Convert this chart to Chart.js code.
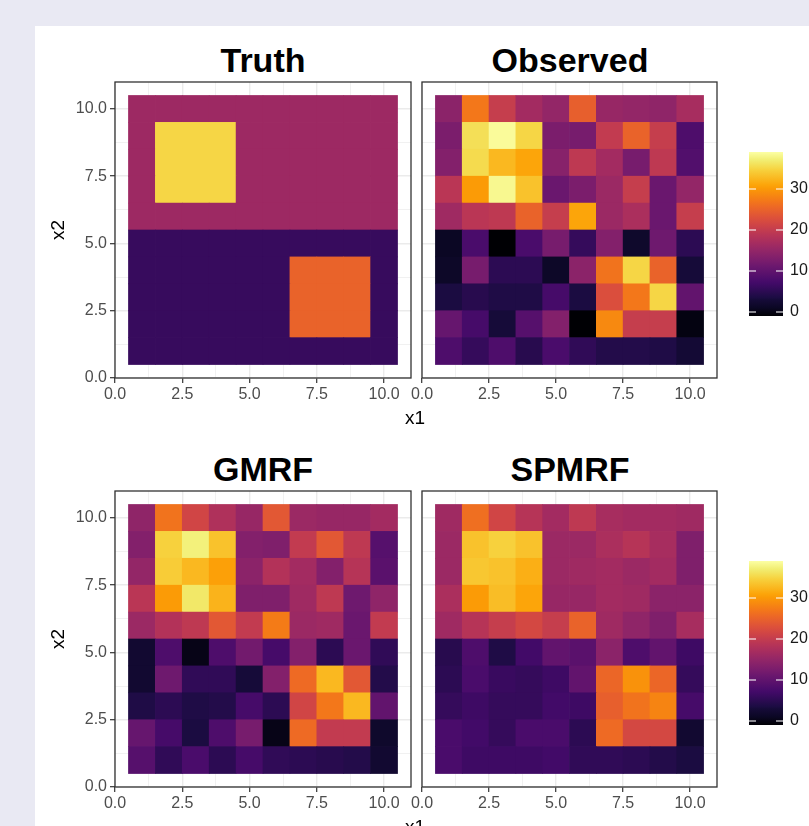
<!DOCTYPE html>
<html><head><meta charset="utf-8">
<script src="https://cdn.jsdelivr.net/npm/chart.js@4.4.1/dist/chart.umd.min.js"></script>
<style>
html,body{margin:0;padding:0;background:#E9E9F3;width:809px;height:826px;overflow:hidden;font-family:"Liberation Sans",Arial,sans-serif;}
#card{position:absolute;left:35px;top:26px;width:800px;height:820px;background:#fff;}
canvas{position:absolute;}
.title{position:absolute;font-weight:bold;font-size:34px;color:#000;text-align:center;width:300px;line-height:1;white-space:nowrap;}
.axt{position:absolute;font-size:19px;color:#000;text-align:center;width:40px;line-height:1;}
.rot{transform:rotate(-90deg);transform-origin:50% 50%;height:20px;line-height:20px;}
</style></head><body>
<div id="card"></div>
<div class="title" style="left:113px;top:43px;">Truth</div>
<div class="title" style="left:420px;top:43px;">Observed</div>
<div class="title" style="left:113px;top:452px;">GMRF</div>
<div class="title" style="left:420px;top:452px;">SPMRF</div>
<canvas id="c1" width="361" height="336" style="left:60px;top:72px;width:361px;height:336px;"></canvas>
<canvas id="c2" width="325" height="336" style="left:402px;top:72px;width:325px;height:336px;"></canvas>
<canvas id="c3" width="361" height="336" style="left:60px;top:481px;width:361px;height:336px;"></canvas>
<canvas id="c4" width="325" height="336" style="left:402px;top:481px;width:325px;height:336px;"></canvas>
<canvas id="l1" width="60" height="184" style="left:749px;top:142px;width:60px;height:184px;"></canvas>
<canvas id="l2" width="60" height="184" style="left:749px;top:551px;width:60px;height:184px;"></canvas>
<div class="axt" style="left:395px;top:408px;">x1</div>
<div class="axt" style="left:395px;top:817px;">x1</div>
<div class="axt rot" style="left:38px;top:220px;">x2</div>
<div class="axt rot" style="left:38px;top:629px;">x2</div>
<script>
// ---- data ----
const X_CELLS = [1,2,3,4,5,6,7,8,9,10];
const Y_ROWS = [10,9,8,7,6,5,4,3,2,1];
const AXIS_MAJOR = [0,2.5,5,7.5,10];
const AXIS_MINOR = [1.25,3.75,6.25,8.75];
const LEGEND_TICKS = [0,10,20,30];
const LIMITS = [-1,39];

const TRUTH = [
[16,16,16,16,16,16,16,16,16,16],
[16,35,35,35,16,16,16,16,16,16],
[16,35,35,35,16,16,16,16,16,16],
[16,35,35,35,16,16,16,16,16,16],
[16,16,16,16,16,16,16,16,16,16],
[6,6,6,6,6,6,6,6,6,6],
[6,6,6,6,6,6,25,25,25,6],
[6,6,6,6,6,6,25,25,25,6],
[6,6,6,6,6,6,25,25,25,6],
[6,6,6,6,6,6,6,6,6,6]];

const OBSERVED = [
[14.2,27.0,20.2,16.6,15.0,24.6,15.4,15.0,14.6,17.0],
[12.6,35.8,38.6,35.0,12.6,12.2,19.8,25.0,20.2,8.2],
[13.4,35.4,32.6,31.0,13.8,19.4,16.6,12.2,19.4,8.6],
[19.0,30.2,38.2,33.4,11.0,12.6,15.8,20.2,11.0,15.0],
[16.2,19.0,19.4,25.0,20.2,31.0,15.8,17.4,11.0,20.2],
[1.0,7.8,-1.0,7.8,12.2,5.8,13.4,1.8,11.4,5.0],
[1.4,12.2,5.0,5.0,1.4,14.2,26.6,35.0,25.0,3.0],
[3.4,4.6,3.8,3.8,7.4,3.4,22.6,27.0,35.0,10.2],
[10.6,7.4,3.0,9.0,13.4,-1.0,28.6,20.2,20.2,-0.2],
[8.2,5.8,8.2,4.6,7.8,5.4,4.2,4.2,3.8,2.6]];

const GMRF = [
[14.6,26.6,21.4,17.8,15.4,23.8,15.8,15.4,15.4,16.6],
[13.4,34.6,37.4,33.4,13.4,13.0,19.8,23.8,19.4,9.0],
[15.0,34.2,32.6,30.6,14.2,18.2,16.6,13.4,18.6,9.4],
[19.0,30.2,36.6,32.2,13.0,13.0,16.2,19.4,11.4,14.6],
[15.8,18.2,19.4,23.8,19.8,27.4,15.8,16.2,11.0,19.8],
[2.2,8.2,0.2,8.2,11.8,7.4,13.4,5.0,11.0,5.4],
[2.2,11.4,5.4,5.4,3.0,13.4,25.8,32.6,23.8,4.2],
[3.8,5.0,3.8,4.2,7.4,5.0,21.4,27.0,32.6,10.2],
[10.6,7.4,3.4,8.2,12.2,0.2,25.8,19.8,19.8,1.8],
[9.0,5.4,7.8,5.0,7.4,5.4,5.0,4.6,4.2,2.2]];

const SPMRF = [
[16.2,26.2,21.4,18.6,16.6,19.4,17.0,16.6,16.6,16.2],
[15.8,33.4,34.6,33.4,15.8,15.8,17.4,18.6,17.0,13.0],
[15.8,33.8,33.4,31.8,15.8,16.2,16.6,15.8,16.6,13.0],
[17.4,30.2,33.0,31.0,15.4,15.4,16.6,16.2,14.2,14.2],
[16.2,18.6,20.2,21.8,20.2,25.0,16.2,14.6,13.0,17.0],
[4.6,8.2,3.8,7.0,10.2,9.4,14.2,8.2,10.2,6.6],
[5.0,7.8,6.2,5.8,6.6,10.2,25.4,29.4,25.4,5.8],
[5.8,6.6,5.8,5.8,7.0,6.6,24.6,26.6,28.2,7.4],
[7.8,7.0,5.8,7.8,7.8,5.0,25.8,21.8,21.8,2.2],
[7.8,6.6,6.6,6.6,7.0,5.4,5.4,5.0,4.2,3.4]];

// ---- colour map (inferno) ----
const INFERNO = [[0,'#000004'],[0.05,'#0B0724'],[0.1,'#160B39'],[0.111,'#1B0C42'],[0.2,'#420A68'],[0.222,'#4B0C6B'],
[0.3,'#6A176E'],[0.333,'#781C6D'],[0.4,'#932667'],[0.444,'#A52C60'],[0.5,'#BA3655'],[0.556,'#CF4446'],[0.6,'#DD513A'],
[0.667,'#ED6925'],[0.7,'#F3771A'],[0.778,'#FB9A06'],[0.8,'#FCA50A'],[0.889,'#F7D03C'],[0.9,'#F6D645'],[0.95,'#F1ED71'],[1,'#FCFFA4']];
function hex2rgb(h){return [parseInt(h.substr(1,2),16),parseInt(h.substr(3,2),16),parseInt(h.substr(5,2),16)];}
function inferno(v){
  let t=(v-LIMITS[0])/(LIMITS[1]-LIMITS[0]); t=Math.max(0,Math.min(1,t));
  for(let i=1;i<INFERNO.length;i++){
    if(t<=INFERNO[i][0]){
      const [t0,c0]=INFERNO[i-1],[t1,c1]=INFERNO[i];
      const f=(t-t0)/(t1-t0), a=hex2rgb(c0), b=hex2rgb(c1);
      return 'rgb('+a.map((x,k)=>Math.round(x+(b[k]-x)*f)).join(',')+')';
    }
  }
  return INFERNO[INFERNO.length-1][1];
}

const FONT = {family:'"Liberation Sans", Arial, sans-serif', size:16};
const isMajor = v => AXIS_MAJOR.some(m=>Math.abs(m-v)<1e-6);
const allTicks = () => AXIS_MAJOR.concat(AXIS_MINOR).sort((a,b)=>a-b).map(v=>({value:v}));

const boxPlugin = {id:'box', afterDraw(chart){
  const {ctx, chartArea:a} = chart; ctx.save(); ctx.strokeStyle='#333333'; ctx.lineWidth=1.3;
  ctx.strokeRect(a.left, a.top, a.right-a.left, a.bottom-a.top); ctx.restore();
}};

function axisCommon(showLabels){
  return {
    type:'linear', min:0, max:11, offset:false,
    afterBuildTicks: s => { s.ticks = allTicks(); },
    grid:{offset:false, color:'#EBEBEB', lineWidth:c=> (c.tick && isMajor(c.tick.value)) ? 1.4 : 0.7,
      drawTicks:showLabels, tickLength:5, tickWidth:1.2,
      tickColor:c=> (c.tick && isMajor(c.tick.value)) ? '#333333' : 'rgba(0,0,0,0)'},
    border:{display:false},
    ticks:{display:showLabels, autoSkip:false, maxRotation:0, minRotation:0, color:'#4D4D4D', font:FONT, padding:3,
      callback:v=> isMajor(v) ? v.toFixed(1) : ''}
  };
}

function makePanel(id, grid, showY){
  const data=[];
  for(let r=0;r<Y_ROWS.length;r++){
    for(let c=0;c<X_CELLS.length;c++){
      data.push({x:X_CELLS[c], y:[Y_ROWS[r]-0.5, Y_ROWS[r]+0.5], v:grid[r][c]});
    }
  }
  const xs = axisCommon(true);
  xs.ticks.padding = 2;
  xs.afterFit = s => { s.height = 30; s.paddingLeft = 0; s.paddingRight = 0; };
  const ys = axisCommon(showY);
  ys.afterFit = s => { s.width = showY ? 55 : 0; s.paddingTop = 0; s.paddingBottom = 0; };
  new Chart(document.getElementById(id), {
    type:'bar',
    data:{datasets:[{data, backgroundColor:c=> inferno(c.raw ? c.raw.v : 0), borderWidth:0,
      barPercentage:1, categoryPercentage:1}]},
    options:{responsive:false, animation:false, events:[],
      layout:{padding:{top:10, right:10, left: showY ? 0 : 20, bottom:0}},
      plugins:{legend:{display:false}, tooltip:{enabled:false}},
      scales:{x:xs, y:ys}},
    plugins:[boxPlugin]
  });
}

makePanel('c1', TRUTH, true);
makePanel('c2', OBSERVED, false);
makePanel('c3', GMRF, true);
makePanel('c4', SPMRF, false);

const tickMarks = {id:'cbticks', afterDatasetsDraw(chart){
  const ys = chart.scales.y, a = chart.chartArea, ctx = chart.ctx;
  ctx.save(); ctx.strokeStyle='rgba(255,255,255,0.7)'; ctx.lineWidth=1.5;
  LEGEND_TICKS.forEach(v=>{ const y = ys.getPixelForValue(v);
    ctx.beginPath(); ctx.moveTo(a.left,y); ctx.lineTo(a.left+7,y); ctx.moveTo(a.right-7,y); ctx.lineTo(a.right,y); ctx.stroke(); });
  ctx.restore();
}};

function makeLegend(id){
  new Chart(document.getElementById(id), {
    type:'bar',
    data:{labels:['value'], datasets:[{data:[[LIMITS[0], LIMITS[1]]], borderWidth:0, barPercentage:1, categoryPercentage:1,
      backgroundColor:c=>{
        const ch = c.chart; if(!ch.chartArea) return '#000';
        const ys = ch.scales.y;
        const g = ch.ctx.createLinearGradient(0, ys.getPixelForValue(LIMITS[0]), 0, ys.getPixelForValue(LIMITS[1]));
        INFERNO.forEach(([t,col])=>g.addColorStop(t,col)); return g; }}]},
    options:{responsive:false, animation:false, events:[],
      layout:{padding:{top:10, bottom:10, left:0, right:0}},
      plugins:{legend:{display:false}, tooltip:{enabled:false}},
      scales:{
        x:{type:'category', display:false, offset:true},
        y:{position:'right', min:LIMITS[0], max:LIMITS[1],
          afterBuildTicks: s => { s.ticks = LEGEND_TICKS.map(v=>({value:v})); },
          afterFit: s => { s.width = 26; s.paddingTop = 0; s.paddingBottom = 0; },
          grid:{display:false, drawTicks:false}, border:{display:false},
          ticks:{color:'#1A1A1A', font:FONT, padding:7, callback:v=>String(v)}}
      }},
    plugins:[tickMarks]
  });
}
makeLegend('l1');
makeLegend('l2');
</script>
</body></html>
